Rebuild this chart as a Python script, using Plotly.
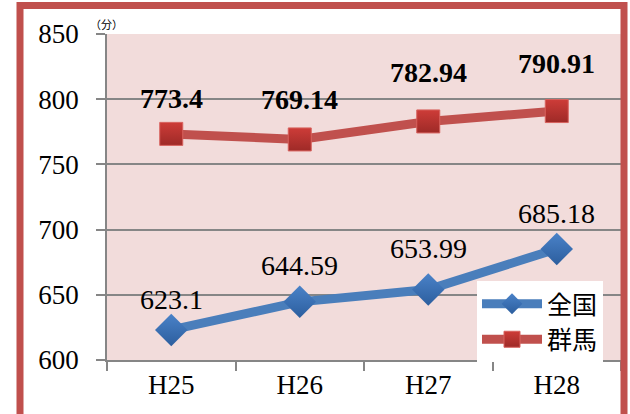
import plotly.graph_objects as go

categories = ["H25", "H26", "H27", "H28"]
zenkoku = [623.1, 644.59, 653.99, 685.18]
gunma = [773.4, 769.14, 782.94, 790.91]
zenkoku_labels = ["623.1", "644.59", "653.99", "685.18"]
gunma_labels = ["773.4", "769.14", "782.94", "790.91"]
y_ticks = [600, 650, 700, 750, 800, 850]

# label offsets (pixels above point)
zenkoku_dy = [30, 36, 41, 35]
gunma_dy = [35, 40, 49, 48]

SERIF = "Liberation Serif, DejaVu Serif, serif"
BLUE = "#4A7EBB"
RED = "#C0504D"

W, H = 630, 414
ML, MR, MT, MB = 107, 9, 34, 54
PW, PH = W - ML - MR, H - MT - MB


def px_x(p):
    return (p - ML) / PW


def px_y(p):
    return (H - MB - p) / PH


fig = go.Figure()
fig.add_trace(go.Scatter(
    x=categories, y=zenkoku, name="全国", mode="lines+markers",
    line=dict(color=BLUE, width=9),
    marker=dict(symbol="diamond", size=25, color="#4A82C8",
                gradient=dict(type="vertical", color="#2C5E9E"),
                line=dict(width=0)),
))
fig.add_trace(go.Scatter(
    x=categories, y=gunma, name="群馬", mode="lines+markers",
    line=dict(color=RED, width=9),
    marker=dict(symbol="square", size=23, color="#CD3C38",
                gradient=dict(type="vertical", color="#9E2A27"),
                line=dict(width=1, color="#D8625E")),
))

annotations = []
for c, v, t, dy in zip(categories, zenkoku, zenkoku_labels, zenkoku_dy):
    annotations.append(dict(x=c, y=v, text=t, showarrow=False, yshift=dy,
                            font=dict(family=SERIF, size=28, color="black")))
for c, v, t, dy in zip(categories, gunma, gunma_labels, gunma_dy):
    annotations.append(dict(x=c, y=v, text="<b>" + t + "</b>", showarrow=False, yshift=dy,
                            font=dict(family=SERIF, size=28, color="black")))
annotations.append(dict(xref="paper", yref="paper", x=px_x(106), y=px_y(24), text="（分）",
                        showarrow=False, xanchor="center", yanchor="middle",
                        font=dict(family="Noto Sans CJK JP", size=11, color="black")))

fig.update_layout(
    width=W, height=H,
    margin=dict(l=ML, r=MR, t=MT, b=MB, autoexpand=False),
    paper_bgcolor="white",
    plot_bgcolor="#F2DCDB",
    showlegend=True,
    legend=dict(x=px_x(477), y=px_y(281), xanchor="left", yanchor="top",
                bgcolor="white", font=dict(family="Noto Sans CJK JP", size=25, color="black"),
                itemwidth=60, tracegroupgap=0),
    annotations=annotations,
    shapes=[dict(type="rect", xref="paper", yref="paper",
                 x0=px_x(20), x1=px_x(624), y0=px_y(440), y1=px_y(5.5),
                 line=dict(color=RED, width=7), fillcolor="rgba(0,0,0,0)", layer="above")],
)
fig.update_xaxes(
    type="category", range=[-0.5, 3.5], tickson="boundaries",
    ticks="outside", ticklen=9, tickcolor="#868686", tickwidth=1.5,
    showline=True, linecolor="#868686", linewidth=1.5, showgrid=False,
    tickfont=dict(family=SERIF, size=27, color="black"),
)
fig.update_yaxes(
    range=[600, 850], tickvals=y_ticks,
    ticks="outside", ticklen=9, tickcolor="#868686", tickwidth=1.5,
    showline=True, linecolor="#868686", linewidth=1.5,
    showgrid=True, gridcolor="#868686", gridwidth=1.5, zeroline=False,
    tickfont=dict(family=SERIF, size=27, color="black"), ticklabelstandoff=12,
)

fig.write_html("out.html", config={"displayModeBar": False},
               post_script="document.body.style.margin='0';document.body.style.overflow='hidden';")
